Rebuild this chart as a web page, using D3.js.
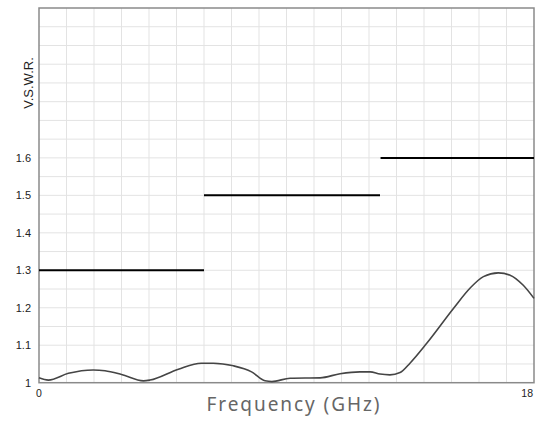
<!DOCTYPE html>
<html>
<head>
<meta charset="utf-8">
<script src="https://cdn.jsdelivr.net/npm/d3@7"></script>
<style>
  html, body { margin: 0; padding: 0; background: #fff; }
  svg { display: block; }
</style>
</head>
<body>
<svg id="chart" width="540" height="423"></svg>
<script>
// Measured VSWR curve (frequency GHz, VSWR)
const freq = [0, 0.34, 1.07, 1.97, 2.4, 3.0, 3.8, 4.04, 5.07, 5.9, 6.34, 7.07, 7.73, 8.22, 8.47, 9.13, 10.22, 10.95, 11.67, 12.04, 12.4, 12.76, 13.13, 13.49, 14.1, 15.07, 15.67, 16.16, 16.7, 17.13, 17.61, 18];
const vswr = [1.013, 1.007, 1.025, 1.034, 1.032, 1.022, 1.005, 1.007, 1.036, 1.052, 1.052, 1.045, 1.029, 1.005, 1.003, 1.012, 1.013, 1.024, 1.029, 1.029, 1.023, 1.021, 1.027, 1.052, 1.105, 1.198, 1.252, 1.283, 1.293, 1.287, 1.26, 1.225];
// Specification limits
const specStart = [0, 6, 12.42];
const specEnd = [6, 12.4, 18];
const specValue = [1.3, 1.5, 1.6];
// Tick labels
const yTicks = [1, 1.1, 1.2, 1.3, 1.4, 1.5, 1.6];
const xTicks = [0, 18];

const svg = d3.select("#chart");
const m = {left: 39, top: 8, right: 534, bottom: 382.7};
const x = d3.scaleLinear().domain([0, 18]).range([m.left, m.right]);
const y = d3.scaleLinear().domain([1, 2]).range([m.bottom, m.top]);

// grid
const g = svg.append("g");
g.selectAll("line.vg").data(d3.range(1, 18)).join("line")
  .attr("x1", d => x(d)).attr("x2", d => x(d))
  .attr("y1", m.top).attr("y2", m.bottom)
  .attr("stroke", "#e3e3e3").attr("stroke-width", 1);
g.selectAll("line.hg").data(d3.range(1, 20).map(i => 1 + i * 0.05)).join("line")
  .attr("x1", m.left).attr("x2", m.right)
  .attr("y1", d => y(d)).attr("y2", d => y(d))
  .attr("stroke", "#e3e3e3").attr("stroke-width", 1);

// frame
svg.append("rect").attr("x", m.left).attr("y", m.top)
  .attr("width", m.right - m.left).attr("height", m.bottom - m.top)
  .attr("fill", "none").attr("stroke", "#8a8a8a").attr("stroke-width", 1.5);

// spec lines
svg.selectAll("line.spec").data(specValue).join("line")
  .attr("x1", (d, i) => x(specStart[i])).attr("x2", (d, i) => x(specEnd[i]))
  .attr("y1", d => y(d)).attr("y2", d => y(d))
  .attr("stroke", "#000").attr("stroke-width", 2);

// curve
const pts = freq.map((f, i) => [f, vswr[i]]);
svg.append("path").datum(pts)
  .attr("d", d3.line().x(d => x(d[0])).y(d => y(d[1])).curve(d3.curveMonotoneX))
  .attr("fill", "none").attr("stroke", "#454545").attr("stroke-width", 1.6);

// y tick labels
svg.selectAll("text.yt").data(yTicks).join("text")
  .attr("x", 31).attr("y", d => y(d) + 4)
  .attr("text-anchor", "end")
  .attr("font-family", "Liberation Sans, Arial, sans-serif").attr("font-size", 11)
  .attr("fill", "#222")
  .text(d => d === 1 ? "1" : d3.format(".1f")(d));

// x tick labels
svg.selectAll("text.xt").data(xTicks).join("text")
  .attr("x", (d, i) => i === 0 ? x(d) : x(d) - 1)
  .attr("y", 397)
  .attr("text-anchor", (d, i) => i === 0 ? "middle" : "end")
  .attr("font-family", "Liberation Sans, Arial, sans-serif").attr("font-size", 10.5)
  .attr("fill", "#222")
  .text(d => d);

// axis titles
svg.append("text")
  .attr("x", 293).attr("y", 411)
  .attr("text-anchor", "middle")
  .attr("textLength", 173).attr("lengthAdjust", "spacing")
  .attr("font-family", "'Noto Sans', 'Open Sans', sans-serif").attr("font-size", 19)
  .attr("fill", "#666")
  .text("Frequency (GHz)");

svg.append("text")
  .attr("transform", "translate(32.5,83) rotate(-90)")
  .attr("text-anchor", "middle")
  .attr("font-family", "Liberation Sans, Arial, sans-serif").attr("font-size", 13)
  .attr("fill", "#222")
  .text("V.S.W.R.");
</script>
</body>
</html>
